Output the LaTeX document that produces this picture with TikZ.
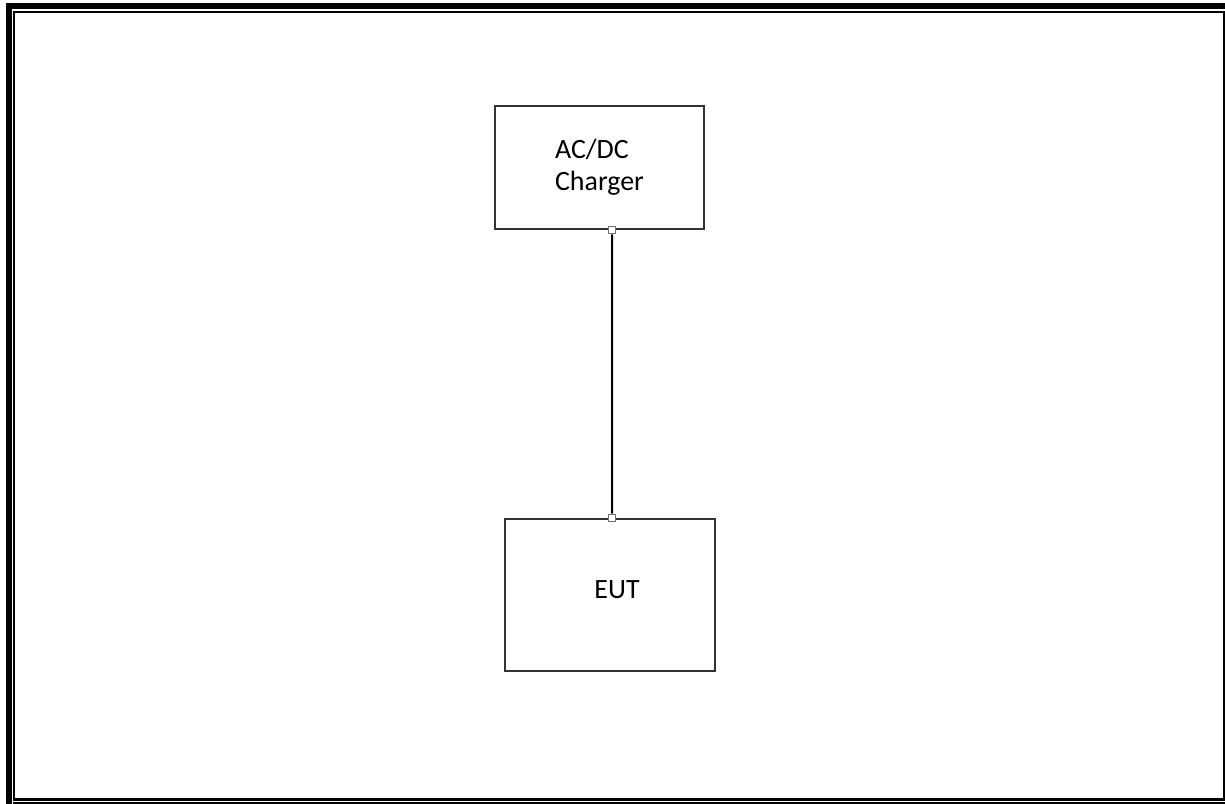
\documentclass[tikz,border=0pt]{standalone}
\usepackage{fontspec}
\setmainfont{Carlito}
\usepackage{tikz}
\usetikzlibrary{positioning}
% 1 px of the reference = 0.02cm = 0.569pt
\tikzstyle{unit}  = [rectangle, draw=black!80, line width=1.14pt, text centered, align=left, font=\fontsize{15.9}{18.1}\selectfont]
\tikzstyle{pin}   = [rectangle, draw=black!55, fill=white, line width=0.55pt, minimum size=4.4pt, inner sep=0pt]
\tikzstyle{wire}  = [line width=1.14pt, black]

\begin{document}
\begin{tikzpicture}[x=0.02cm, y=-0.02cm]

    \useasboundingbox (0,0) rectangle (1225,804);
    \begin{scope}
    \clip (0,0) rectangle (1225,804);
    % page frame
    \draw [line width=3.4pt] (9,830) -- (9,6) -- (1240,6);
    \draw [line width=1.4pt] (14,12) rectangle (1224,799.5);
    \draw [line width=1.14pt] (13,803) -- (1240,803);
    \end{scope}

    \node (charger) [unit, minimum width=4.18cm, minimum height=2.46cm] at (599.5,167.5) {AC/DC\\Charger};
    \node (eut)     [unit, minimum width=4.2cm, minimum height=3.04cm] at (610,595)   {\hspace*{8pt}\raisebox{3pt}[\height][\depth]{EUT}};

    \node (pa) [pin] at ([xshift=0.25cm]charger.south) {};
    \node (pb) [pin] at ([xshift=0.04cm]eut.north) {};

    \draw [wire] (pa) -- (pb);

\end{tikzpicture}
\end{document}
